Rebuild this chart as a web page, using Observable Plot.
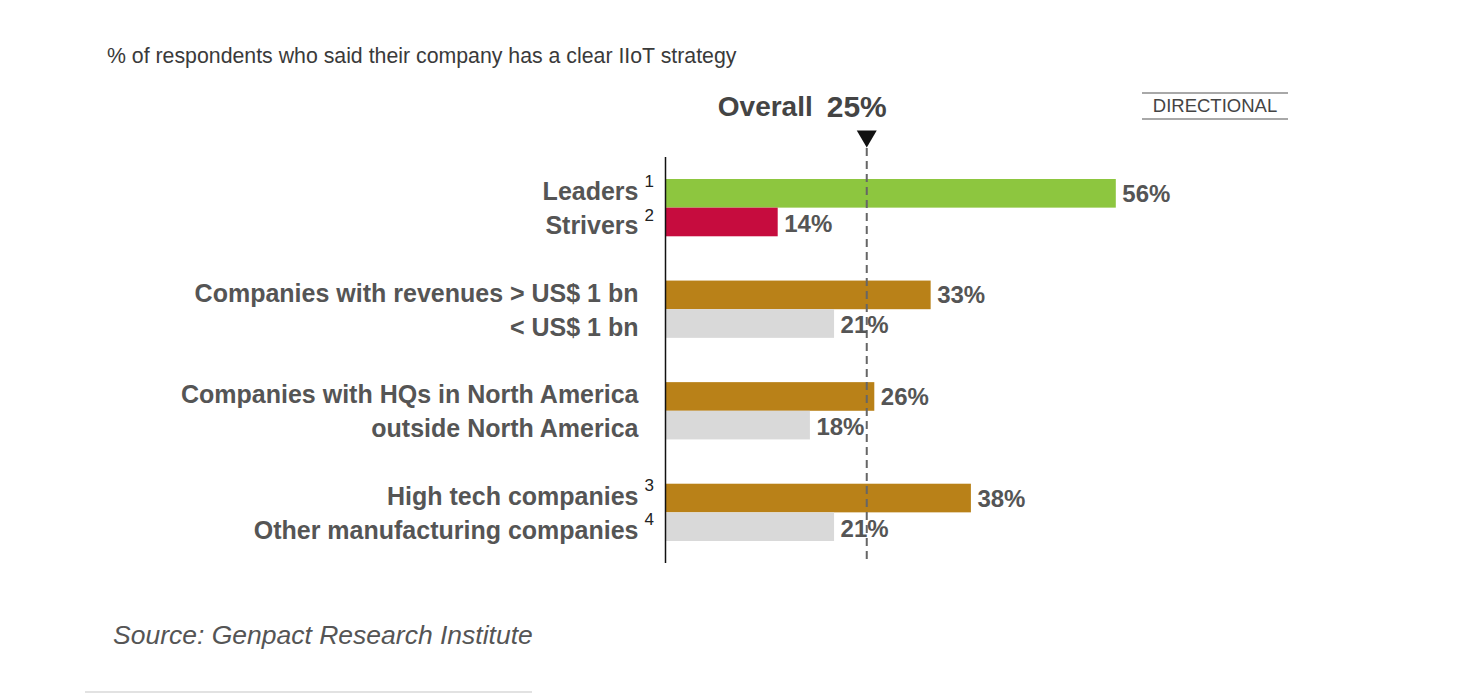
<!DOCTYPE html>
<html>
<head>
<meta charset="utf-8">
<script src="https://cdn.jsdelivr.net/npm/d3@7"></script>
<script src="https://cdn.jsdelivr.net/npm/@observablehq/plot@0.6"></script>
<style>
  html, body { margin: 0; padding: 0; background: #fff; width: 1466px; height: 698px; overflow: hidden; font-family: "Liberation Sans", Arial, sans-serif; }
  #title { position: absolute; left: 107px; top: 44px; font-size: 21.3px; color: #3a3a3a; white-space: nowrap; }
  #directional { position: absolute; left: 1142px; top: 92px; width: 146px; height: 24px; border-top: 2px solid #a8a8a8; border-bottom: 2px solid #a8a8a8; text-align: center; font-size: 18.5px; line-height: 24px; color: #444; }
  #chart { position: absolute; left: 0; top: 75px; }
  #source { position: absolute; left: 113px; top: 620px; font-size: 26.5px; font-style: italic; color: #555; white-space: nowrap; }
  #rule { position: absolute; left: 85px; top: 691px; width: 447px; height: 2px; background: #e2e2e2; }
</style>
</head>
<body>
<div id="title">% of respondents who said their company has a clear IIoT strategy</div>
<div id="directional">DIRECTIONAL</div>
<div id="chart"></div>
<div id="source">Source: Genpact Research Institute</div>
<div id="rule"></div>
<script>
// ---- data ----
const groups = ["Segment", "Revenue", "Headquarters", "Industry"];
const labels = [
  "Leaders", "Strivers",
  "Companies with revenues > US$ 1 bn", "< US$ 1 bn",
  "Companies with HQs in North America", "outside North America",
  "High tech companies", "Other manufacturing companies"
];
const values = [56, 14, 33, 21, 26, 18, 38, 21];
const footnotes = ["1", "2", "", "", "", "", "3", "4"];
const groupOf = ["Segment", "Segment", "Revenue", "Revenue", "Headquarters", "Headquarters", "Industry", "Industry"];
const slot = [0, 1, 0, 1, 0, 1, 0, 1];
const kinds = ["Leaders", "Strivers", "focus", "comparison", "focus", "comparison", "focus", "comparison"];
const overall = 25;
const overallLabel = "Overall";

const kindDomain = ["Leaders", "Strivers", "focus", "comparison"];
const kindColors = ["#8dc63f", "#c60c3e", "#b98118", "#d9d9d9"];

const rows = labels.map((label, i) => ({
  label, value: values[i], note: footnotes[i], group: groupOf[i], slot: slot[i], kind: kinds[i],
  valueText: values[i] + "%"
}));
const upperRows = rows.filter(d => d.slot === 0);
const lowerRows = rows.filter(d => d.slot === 1);

const pxPerPct = 8.05;
const W = 1466, H = 510, ML = 665;
const MR = W - ML - 90 * pxPerPct;
const half = 28.65;

const downTriangle = {
  draw(ctx, size) {
    const r = Math.sqrt(size / Math.PI);
    ctx.moveTo(-r, -0.85 * r);
    ctx.lineTo(r, -0.85 * r);
    ctx.lineTo(0, 0.85 * r);
    ctx.closePath();
  }
};

const font = "Liberation Sans, Arial, sans-serif";
const labelColor = "#555";

const chart = Plot.plot({
  width: W,
  height: H,
  marginLeft: ML,
  marginRight: MR,
  marginTop: 104,
  marginBottom: 44,
  style: { fontFamily: font, background: "transparent", overflow: "visible" },
  x: { domain: [0, 90], axis: null },
  y: { domain: groups, axis: null, paddingInner: 0.436, paddingOuter: 0, round: false },
  color: { domain: kindDomain, range: kindColors },
  marks: [
    Plot.barX(upperRows, { x: "value", y: "group", fill: "kind", insetBottom: half }),
    Plot.barX(lowerRows, { x: "value", y: "group", fill: "kind", insetTop: half }),
    Plot.ruleX([0], { stroke: "#111", strokeWidth: 1.5, insetTop: -22, insetBottom: -22 }),
    Plot.ruleX([overall], { stroke: "#666", strokeWidth: 2, strokeDasharray: "8,5", insetTop: -31, insetBottom: -22 }),
    Plot.dot([overall], { x: d => d, frameAnchor: "top", dy: -40.5, r: 10, symbol: downTriangle, fill: "#111", stroke: "none" }),
    Plot.text([overall], { x: d => d, frameAnchor: "top", lineAnchor: "middle", dy: -72, dx: -54, text: () => overallLabel, fontSize: 28, fontWeight: "bold", fill: "#444", textAnchor: "end" }),
    Plot.text([overall], { x: d => d, frameAnchor: "top", lineAnchor: "middle", dy: -72, dx: -40, text: d => d + "%", fontSize: 30, fontWeight: "bold", fill: "#444", textAnchor: "start" }),
    // category labels
    Plot.text(upperRows, { y: "group", frameAnchor: "left", dx: -27, dy: -16, text: "label", textAnchor: "end", fontSize: 25, fontWeight: "bold", fill: labelColor }),
    Plot.text(lowerRows, { y: "group", frameAnchor: "left", dx: -27, dy: 18, text: "label", textAnchor: "end", fontSize: 25, fontWeight: "bold", fill: labelColor }),
    Plot.text(upperRows, { y: "group", frameAnchor: "left", dx: -21, dy: -27, text: "note", textAnchor: "start", fontSize: 17, fill: "#222" }),
    Plot.text(lowerRows, { y: "group", frameAnchor: "left", dx: -21, dy: 7, text: "note", textAnchor: "start", fontSize: 17, fill: "#222" }),
    // value labels
    Plot.text(upperRows, { x: "value", y: "group", dx: 6, dy: -14, text: "valueText", textAnchor: "start", fontSize: 24, fontWeight: "bold", fill: labelColor }),
    Plot.text(lowerRows, { x: "value", y: "group", dx: 6, dy: 16, text: "valueText", textAnchor: "start", fontSize: 24, fontWeight: "bold", fill: labelColor })
  ]
});
document.getElementById("chart").append(chart);
</script>
</body>
</html>
